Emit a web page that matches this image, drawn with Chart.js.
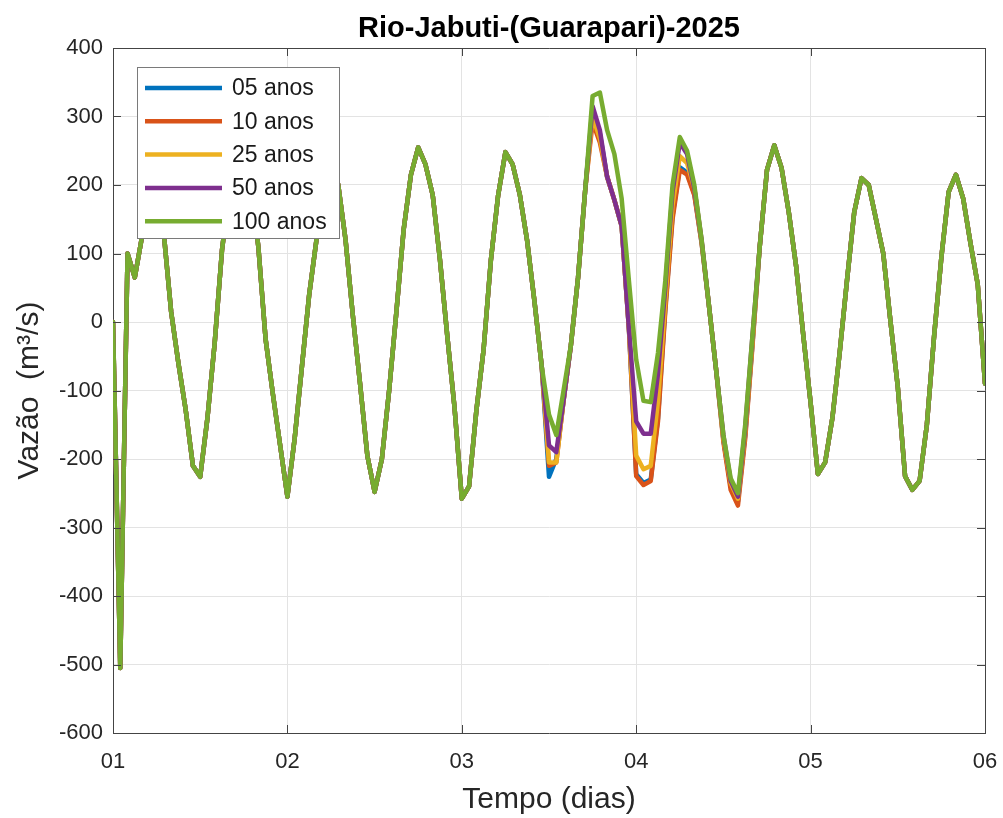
<!DOCTYPE html>
<html>
<head>
<meta charset="utf-8">
<script src="https://cdn.jsdelivr.net/npm/chart.js@4/dist/chart.umd.min.js"></script>
<style>
  html, body { margin: 0; padding: 0; background: #fff; }
  #wrap { width: 1003px; height: 818px; }
</style>
</head>
<body>
<div id="wrap"><canvas id="grafico" width="1003" height="818"></canvas></div>
<script>
// vazao horaria (m3/s), dia 01 00h ate dia 06 00h, uma serie por periodo de retorno
const anos05 = [
  0, -505, 100, 65, 125, 185, 200, 128, 15, -60, -128, -210, -226, -140, -30, 105, 190, 230, 235, 200, 110, -25, -105, -180,
  -255, -170, -65, 40, 120, 205, 245, 200, 120, 10, -90, -195, -248, -200, -100, 15, 135, 215, 255, 230, 185, 90, -20, -125,
  -258, -240, -130, -40, 90, 185, 248, 230, 185, 118, 30, -65, -226, -200, -115, -35, 65, 195, 310, 275, 212, 178, 140, -10,
  -222, -235, -230, -140, 20, 155, 226, 218, 187, 116, 25, -70, -172, -240, -262, -165, -32, 110, 222, 258, 225, 160, 82, -20,
  -118, -222, -205, -140, -45, 60, 160, 210, 200, 150, 100, 0, -95, -225, -245, -232, -150, -20, 95, 190, 215, 180, 115, 55, -90
];
const anos10 = [
  0, -505, 100, 65, 125, 185, 200, 128, 15, -60, -128, -210, -226, -140, -30, 105, 190, 230, 235, 200, 110, -25, -105, -180,
  -255, -170, -65, 40, 120, 205, 245, 200, 120, 10, -90, -195, -248, -200, -100, 15, 135, 215, 255, 230, 185, 90, -20, -125,
  -258, -240, -130, -40, 90, 185, 248, 230, 185, 118, 30, -65, -210, -205, -115, -35, 65, 195, 292, 262, 212, 178, 140, -10,
  -225, -238, -232, -145, 15, 150, 222, 215, 185, 115, 25, -70, -175, -245, -268, -170, -35, 110, 222, 258, 225, 160, 82, -20,
  -118, -222, -205, -140, -45, 60, 160, 210, 200, 150, 100, 0, -95, -225, -245, -232, -150, -20, 95, 190, 215, 180, 115, 55, -90
];
const anos25 = [
  0, -505, 100, 65, 125, 185, 200, 128, 15, -60, -128, -210, -226, -140, -30, 105, 190, 230, 235, 200, 110, -25, -105, -180,
  -255, -170, -65, 40, 120, 205, 245, 200, 120, 10, -90, -195, -248, -200, -100, 15, 135, 215, 255, 230, 185, 90, -20, -125,
  -258, -240, -130, -40, 90, 185, 248, 230, 185, 118, 30, -65, -205, -205, -115, -35, 65, 195, 300, 268, 212, 178, 140, -10,
  -195, -215, -210, -115, 30, 170, 242, 232, 195, 118, 25, -70, -170, -235, -258, -160, -28, 110, 222, 258, 225, 160, 82, -20,
  -118, -222, -205, -140, -45, 60, 160, 210, 200, 150, 100, 0, -95, -225, -245, -232, -150, -20, 95, 190, 215, 180, 115, 55, -90
];
const anos50 = [
  0, -505, 100, 65, 125, 185, 200, 128, 15, -60, -128, -210, -226, -140, -30, 105, 190, 230, 235, 200, 110, -25, -105, -180,
  -255, -170, -65, 40, 120, 205, 245, 200, 120, 10, -90, -195, -248, -200, -100, 15, 135, 215, 255, 230, 185, 90, -20, -125,
  -258, -240, -130, -40, 90, 185, 248, 230, 185, 118, 30, -65, -180, -190, -115, -35, 65, 195, 315, 280, 212, 178, 140, -10,
  -145, -163, -163, -75, 50, 190, 262, 245, 195, 120, 25, -70, -165, -232, -255, -155, -20, 110, 222, 258, 225, 160, 82, -20,
  -118, -222, -205, -140, -45, 60, 160, 210, 200, 150, 100, 0, -95, -225, -245, -232, -150, -20, 95, 190, 215, 180, 115, 55, -90
];
const anos100 = [
  0, -505, 100, 65, 125, 185, 200, 128, 15, -60, -128, -210, -226, -140, -30, 105, 190, 230, 235, 200, 110, -25, -105, -180,
  -255, -170, -65, 40, 120, 205, 245, 200, 120, 10, -90, -195, -248, -200, -100, 15, 135, 215, 255, 230, 185, 90, -20, -125,
  -258, -240, -130, -40, 90, 185, 248, 230, 185, 118, 30, -65, -135, -165, -100, -35, 65, 195, 330, 335, 280, 245, 180, 60,
  -55, -115, -117, -45, 60, 200, 270, 250, 200, 120, 25, -70, -165, -228, -250, -150, -20, 110, 222, 258, 225, 160, 82, -20,
  -118, -222, -205, -140, -45, 60, 160, 210, 200, 150, 100, 0, -95, -225, -245, -232, -150, -20, 95, 190, 215, 180, 115, 55, -90
];

const rotulos = ['05 anos', '10 anos', '25 anos', '50 anos', '100 anos'];
const cores = ['#0072BD', '#D95319', '#EDB120', '#7E2F8E', '#77AC30'];
const diasTicks = ['01', '02', '03', '04', '05', '06'];

// tempo em dias (amostragem horaria)
const tempo = anos100.map((_, i) => 1 + i / 24);

const fonte = '"Liberation Sans", Arial, Helvetica, sans-serif';
const corTexto = '#262626';

const series = [anos05, anos10, anos25, anos50, anos100];
const datasets = series.map((s, k) => ({
  label: rotulos[k],
  data: s.map((v, i) => ({ x: tempo[i], y: v })),
  borderColor: cores[k],
  backgroundColor: cores[k],
  borderWidth: 4.5,
  pointRadius: 0,
  tension: 0,
  fill: false,
  order: series.length - k, // 100 anos por cima, como no matlab
  borderJoinStyle: 'round',
  borderCapStyle: 'round'
}));

// titulo, caixa, ticks internos e legenda no estilo matlab
const estiloMatlab = {
  id: 'estiloMatlab',
  afterDatasetsDraw(chart) {
    const { ctx, chartArea: a, scales } = chart;
    ctx.save();

    // ticks para dentro nos quatro lados
    ctx.strokeStyle = '#444';
    ctx.lineWidth = 1;
    const tl = 8;
    scales.y.ticks.forEach(t => {
      const y = Math.round(scales.y.getPixelForValue(t.value)) + 0.5;
      ctx.beginPath();
      ctx.moveTo(a.left, y); ctx.lineTo(a.left + tl, y);
      ctx.moveTo(a.right, y); ctx.lineTo(a.right - tl, y);
      ctx.stroke();
    });
    scales.x.ticks.forEach(t => {
      const x = Math.round(scales.x.getPixelForValue(t.value)) + 0.5;
      ctx.beginPath();
      ctx.moveTo(x, a.bottom); ctx.lineTo(x, a.bottom - tl);
      ctx.moveTo(x, a.top); ctx.lineTo(x, a.top + tl);
      ctx.stroke();
    });

    // caixa (topo e direita)
    ctx.beginPath();
    ctx.moveTo(a.left, a.top + 0.5); ctx.lineTo(a.right + 0.5, a.top + 0.5);
    ctx.lineTo(a.right + 0.5, a.bottom);
    ctx.stroke();

    // legenda
    const lx = 137.5, ly = 67.5, lw = 202, lh = 171;
    ctx.fillStyle = '#fff';
    ctx.fillRect(lx, ly, lw, lh);
    ctx.strokeStyle = '#7a7a7a';
    ctx.strokeRect(lx, ly, lw, lh);
    ctx.font = '23px ' + fonte;
    ctx.textBaseline = 'middle';
    ctx.textAlign = 'left';
    chart.data.datasets.forEach((d, i) => {
      const y = 88 + i * 33.3;
      ctx.strokeStyle = d.borderColor;
      ctx.lineWidth = 4.5;
      ctx.beginPath();
      ctx.moveTo(145, y); ctx.lineTo(222, y);
      ctx.stroke();
      ctx.fillStyle = '#1a1a1a';
      ctx.fillText(d.label, 232, y + 1);
    });

    // titulo
    ctx.fillStyle = '#000';
    ctx.font = 'bold 29px ' + fonte;
    ctx.textAlign = 'center';
    ctx.textBaseline = 'middle';
    ctx.fillText('Rio-Jabuti-(Guarapari)-2025', (a.left + a.right) / 2, 29);
    ctx.restore();
  }
};

new Chart(document.getElementById('grafico'), {
  type: 'line',
  data: { datasets },
  plugins: [estiloMatlab],
  options: {
    responsive: false,
    devicePixelRatio: 1,
    animation: false,
    layout: { padding: { top: 48, right: 18, left: 0, bottom: 0 } },
    plugins: { legend: { display: false }, tooltip: { enabled: false }, title: { display: false } },
    scales: {
      x: {
        type: 'linear',
        min: 1,
        max: 6,
        afterFit(s) { s.height = 85; s.paddingLeft = 0; s.paddingRight = 0; },
        ticks: {
          stepSize: 1,
          autoSkip: false,
          maxRotation: 0,
          padding: 16,
          color: corTexto,
          font: { family: fonte, size: 22 },
          callback: (v) => diasTicks[v - 1]
        },
        grid: { color: '#e3e3e3', drawTicks: false },
        border: { color: '#444', width: 1 },
        title: {
          display: true,
          text: 'Tempo (dias)',
          color: corTexto,
          font: { family: fonte, size: 30 },
          padding: { top: 0, bottom: 0 }
        }
      },
      y: {
        min: -600,
        max: 400,
        afterFit(s) { s.width = 113; s.paddingTop = 0; s.paddingBottom = 0; },
        ticks: {
          stepSize: 100,
          padding: 10,
          color: corTexto,
          font: { family: fonte, size: 22 }
        },
        grid: { color: '#e3e3e3', drawTicks: false },
        border: { color: '#444', width: 1 },
        title: {
          display: true,
          text: 'Vazão  (m³/s)',
          color: corTexto,
          font: { family: fonte, size: 30 },
          padding: { top: 12, bottom: 0 }
        }
      }
    }
  }
});
</script>
</body>
</html>
